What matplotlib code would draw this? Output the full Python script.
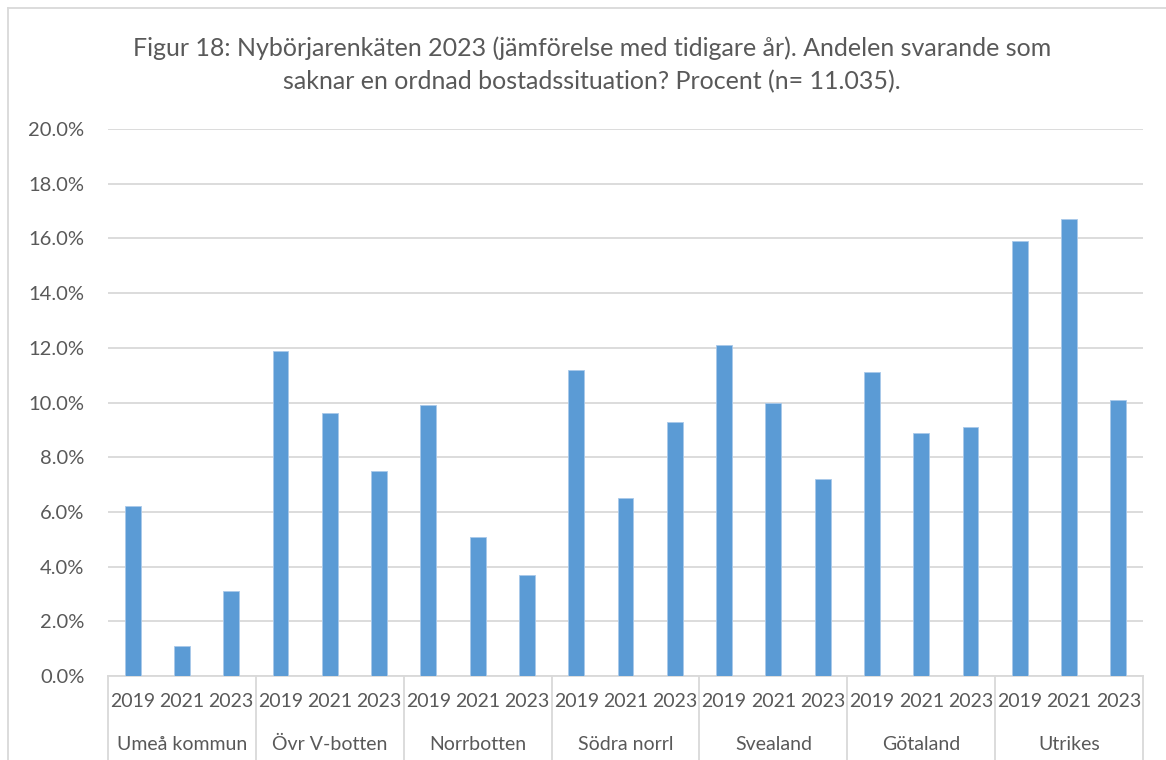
import matplotlib.pyplot as plt
from matplotlib.lines import Line2D
from matplotlib.ticker import PercentFormatter
import matplotlib.transforms as mtransforms

# data (percent)
regions = ['Umeå kommun', 'Övr V-botten', 'Norrbotten', 'Södra norrl',
           'Svealand', 'Götaland', 'Utrikes']
years = ['2019', '2021', '2023']
share_2019 = [6.2, 11.9, 9.9, 11.2, 12.1, 11.1, 15.9]
share_2021 = [1.1, 9.6, 5.1, 6.5, 10.0, 8.9, 16.7]
share_2023 = [3.1, 7.5, 3.7, 9.3, 7.2, 9.1, 10.1]

title = ("Figur 18: Nybörjarenkäten 2023 (jämförelse med tidigare år). Andelen svarande som\n"
         "saknar en ordnad bostadssituation? Procent (n= 11.035).")

bar_color = '#5B9BD5'
grid_color = '#D9D9D9'
text_color = '#595959'

plt.rcParams['font.family'] = ['Lato', 'DejaVu Sans']

W, H = 1166, 760
fig = plt.figure(figsize=(W / 100, H / 100), dpi=100)
left, right, top, bottom = 108, 1143, 129, 676
ax = fig.add_axes([left / W, (H - bottom) / H, (right - left) / W, (bottom - top) / H])

# flatten into one bar per (region, year)
values = []
labels = []
for i in range(len(regions)):
    for s in (share_2019, share_2021, share_2023):
        values.append(s[i] / 100)
    labels.extend(years)
xs = list(range(len(values)))

ax.bar(xs, values, width=0.32, color=bar_color, edgecolor='#A9C9EA', linewidth=0.6, zorder=3)

ax.set_xlim(-0.5, len(values) - 0.5)
ax.set_ylim(0, 0.20)
ax.set_yticks([i * 0.02 for i in range(11)])
ax.yaxis.set_major_formatter(PercentFormatter(xmax=1, decimals=1))
ax.grid(axis='y', color=grid_color, linewidth=1.3, zorder=0)
ax.set_xticks(xs)
ax.set_xticklabels(labels)
ax.tick_params(axis='x', length=0, pad=12, labelsize=14, labelcolor=text_color)
ax.tick_params(axis='y', length=0, pad=17, labelsize=14.5, labelcolor=text_color)
for side in ('top', 'right', 'left'):
    ax.spines[side].set_visible(False)
ax.spines['bottom'].set_color(grid_color)
ax.spines['bottom'].set_linewidth(1.3)

# group separators and region labels below the year labels
trans = mtransforms.blended_transform_factory(ax.transData, ax.transAxes)
depth = -(H - bottom) / (bottom - top)
for k in range(len(regions) + 1):
    xb = k * 3 - 0.5
    ax.add_line(Line2D([xb, xb], [0, depth], transform=trans, color=grid_color,
                       linewidth=1.3, clip_on=False))
label_y = -(744 - bottom) / (bottom - top)
for k, name in enumerate(regions):
    ax.text(k * 3 + 1, label_y, name, transform=trans, ha='center', va='center',
            fontsize=14, color=text_color)

# chart border
fig.add_artist(Line2D([8 / W, 8 / W], [0, 1 - 8 / H], color=grid_color, linewidth=1.3))
fig.add_artist(Line2D([8 / W, 1], [1 - 8 / H, 1 - 8 / H], color=grid_color, linewidth=1.3))

fig.text(592 / W, 1 - 65 / H, title, ha='center', va='center', fontsize=18,
         color=text_color, linespacing=1.5)

fig.savefig('out.png', dpi=100)
